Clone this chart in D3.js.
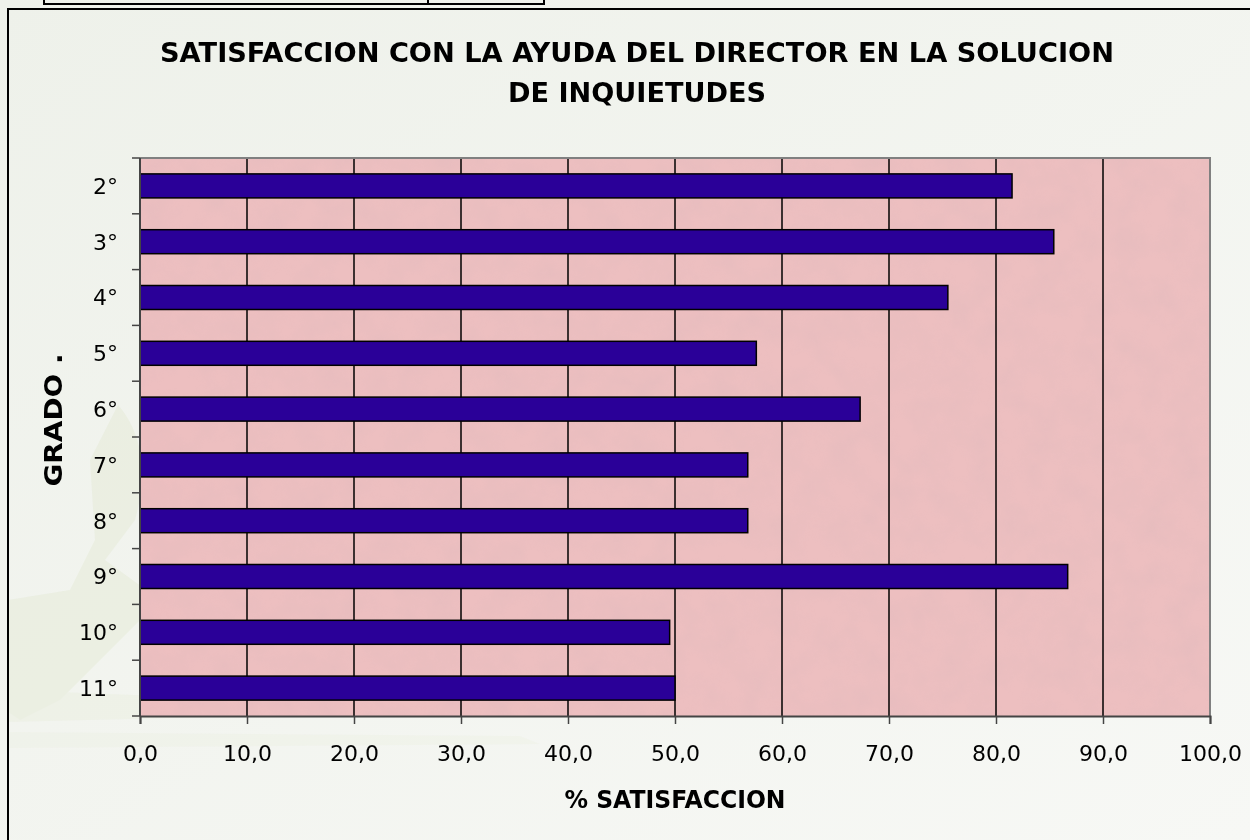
<!DOCTYPE html>
<html>
<head>
<meta charset="utf-8">
<script src="https://cdn.jsdelivr.net/npm/d3@7"></script>
<style>
  body { margin: 0; background: #f3f5f0; }
  svg { display: block; }
</style>
</head>
<body>
<div id="chart"></div>
<script>
var categories = ["2°", "3°", "4°", "5°", "6°", "7°", "8°", "9°", "10°", "11°"];
var values = [81.5, 85.4, 75.5, 57.6, 67.3, 56.8, 56.8, 86.7, 49.5, 50.0];
var xTicks = [0, 10, 20, 30, 40, 50, 60, 70, 80, 90, 100];
var titleLines = ["SATISFACCION CON LA AYUDA DEL DIRECTOR EN  LA SOLUCION", "DE INQUIETUDES"];
var xTitle = "% SATISFACCION";
var yTitle = "GRADO .";

var W = 1250, H = 840;
var plot = { left: 140, right: 1210, top: 158, bottom: 716 };

var svg = d3.select("#chart").append("svg")
	.attr("width", W)
	.attr("height", H);

var defs = svg.append("defs");
var bg = defs.append("linearGradient").attr("id", "bg")
	.attr("x1", "0").attr("y1", "0").attr("x2", "1").attr("y2", "1");
bg.append("stop").attr("offset", "0").attr("stop-color", "#eef1ea");
bg.append("stop").attr("offset", "1").attr("stop-color", "#f7f8f5");

// marble texture for the plot area
var f = defs.append("filter").attr("id", "marble")
	.attr("x", "0").attr("y", "0").attr("width", "1").attr("height", "1");
f.append("feTurbulence").attr("type", "fractalNoise")
	.attr("baseFrequency", "0.035").attr("numOctaves", "4").attr("seed", "7").attr("result", "n");
f.append("feColorMatrix").attr("in", "n").attr("type", "matrix")
	.attr("values", "0 0 0 0 0.62  0 0 0 0 0.45  0 0 0 0 0.48  0.55 0 0 0 -0.18")
	.attr("result", "c");
f.append("feComposite").attr("in", "c").attr("in2", "SourceGraphic").attr("operator", "in");

// page background
svg.append("rect").attr("width", W).attr("height", H).attr("fill", "url(#bg)");

// faint decorative shape at the left
var deco = svg.append("g").attr("fill", "#dfe6cc").attr("opacity", 0.35);
deco.append("path").attr("d", "M118,405 C140,430 150,470 135,520 L105,560 L160,600 L120,640 L60,700 L20,720 L8,712 L8,600 L70,590 L95,540 L90,460 Z");
deco.append("path").attr("d", "M8,690 L260,700 L250,716 L8,722 Z").attr("opacity", 0.6);
deco.append("path").attr("d", "M8,732 L520,736 L540,744 L8,748 Z").attr("opacity", 0.35);

// top table fragment
var topBox = svg.append("g").attr("stroke", "#000").attr("stroke-width", 2).attr("fill", "none");
topBox.append("path").attr("d", "M44,0 V4 H544 V0");
topBox.append("line").attr("x1", 428).attr("x2", 428).attr("y1", 0).attr("y2", 4);

// chart border
svg.append("path")
	.attr("d", "M8,840 V9 H1250")
	.attr("fill", "none").attr("stroke", "#000").attr("stroke-width", 2);

// title
svg.selectAll("text.title").data(titleLines).enter().append("text")
	.attr("class", "title")
	.attr("x", 637)
	.attr("y", function (d, i) { return 62 + i * 40; })
	.attr("text-anchor", "middle")
	.style("font-family", "DejaVu Sans")
	.style("font-weight", "bold")
	.style("font-size", "26px")
	.attr("textLength", function (d, i) { return i == 0 ? 954 : 258; })
	.attr("lengthAdjust", "spacingAndGlyphs")
	.attr("fill", "#000")
	.text(function (d) { return d; });

var x = d3.scaleLinear().domain([0, 100]).range([plot.left, plot.right]);
var y = d3.scaleBand().domain(categories).range([plot.top, plot.bottom])
	.paddingInner(0.57).paddingOuter(0.285);

// plot area
svg.append("rect")
	.attr("x", plot.left).attr("y", plot.top)
	.attr("width", plot.right - plot.left).attr("height", plot.bottom - plot.top)
	.attr("fill", "#edbfc0");
svg.append("rect")
	.attr("x", plot.left).attr("y", plot.top)
	.attr("width", plot.right - plot.left).attr("height", plot.bottom - plot.top)
	.attr("fill", "#fff")
	.attr("filter", "url(#marble)")
	.attr("opacity", 0.55);

// grid lines
svg.append("g").selectAll("line").data(xTicks.slice(1, -1)).enter().append("line")
	.attr("x1", function (d) { return x(d); })
	.attr("x2", function (d) { return x(d); })
	.attr("y1", plot.top).attr("y2", plot.bottom)
	.attr("stroke", "#000").attr("stroke-width", 1.5);

// plot frame (top and right)
svg.append("path")
	.attr("d", "M" + plot.left + "," + plot.top + " H" + plot.right + " V" + plot.bottom)
	.attr("fill", "none").attr("stroke", "#808080").attr("stroke-width", 2);

// bars
svg.append("g").selectAll("rect").data(values).enter().append("rect")
	.attr("x", x(0))
	.attr("y", function (d, i) { return y(categories[i]); })
	.attr("width", function (d) { return x(d) - x(0); })
	.attr("height", y.bandwidth())
	.attr("fill", "#2a0098")
	.attr("stroke", "#000")
	.attr("stroke-width", 1.5);

// x axis
var xAxis = d3.axisBottom(x)
	.tickValues(xTicks)
	.tickSize(8)
	.tickFormat(function (d) { return d3.format(".1f")(d).replace(".", ","); });
var gx = svg.append("g").attr("transform", "translate(0," + plot.bottom + ")").call(xAxis);
gx.select(".domain").attr("stroke", "#444").attr("stroke-width", 2);
gx.selectAll(".tick line").attr("stroke", "#444").attr("stroke-width", 1.5);
gx.selectAll(".tick text")
	.attr("y", 29).attr("dy", "0.71em")
	.style("font-family", "DejaVu Sans").style("font-size", "22px").attr("fill", "#000");

// y axis: ticks at band boundaries, labels centered in band
var gy = svg.append("g");
gy.append("line")
	.attr("x1", plot.left).attr("x2", plot.left)
	.attr("y1", plot.top).attr("y2", plot.bottom)
	.attr("stroke", "#444").attr("stroke-width", 2);
var bounds = d3.range(categories.length + 1).map(function (i) { return plot.top + i * y.step(); });
gy.selectAll("line.tk").data(bounds).enter().append("line")
	.attr("class", "tk")
	.attr("x1", plot.left - 8).attr("x2", plot.left)
	.attr("y1", function (d) { return d; }).attr("y2", function (d) { return d; })
	.attr("stroke", "#444").attr("stroke-width", 1.5);
gy.selectAll("text").data(categories).enter().append("text")
	.attr("x", 118)
	.attr("y", function (d) { return y(d) + y.bandwidth() / 2; })
	.attr("dy", "0.36em")
	.attr("text-anchor", "end")
	.style("font-family", "DejaVu Sans").style("font-size", "22px")
	.attr("fill", "#000")
	.text(function (d) { return d; });

// axis titles
svg.append("text")
	.attr("x", 675).attr("y", 808)
	.attr("text-anchor", "middle")
	.style("font-family", "DejaVu Sans").style("font-weight", "bold").style("font-size", "24px")
	.attr("textLength", 221).attr("lengthAdjust", "spacingAndGlyphs")
	.text(xTitle);
svg.append("text")
	.attr("transform", "translate(62,420) rotate(-90)")
	.attr("text-anchor", "middle")
	.style("font-family", "DejaVu Sans").style("font-weight", "bold").style("font-size", "25px")
	.attr("textLength", 133).attr("lengthAdjust", "spacingAndGlyphs")
	.text(yTitle);
</script>
</body>
</html>
